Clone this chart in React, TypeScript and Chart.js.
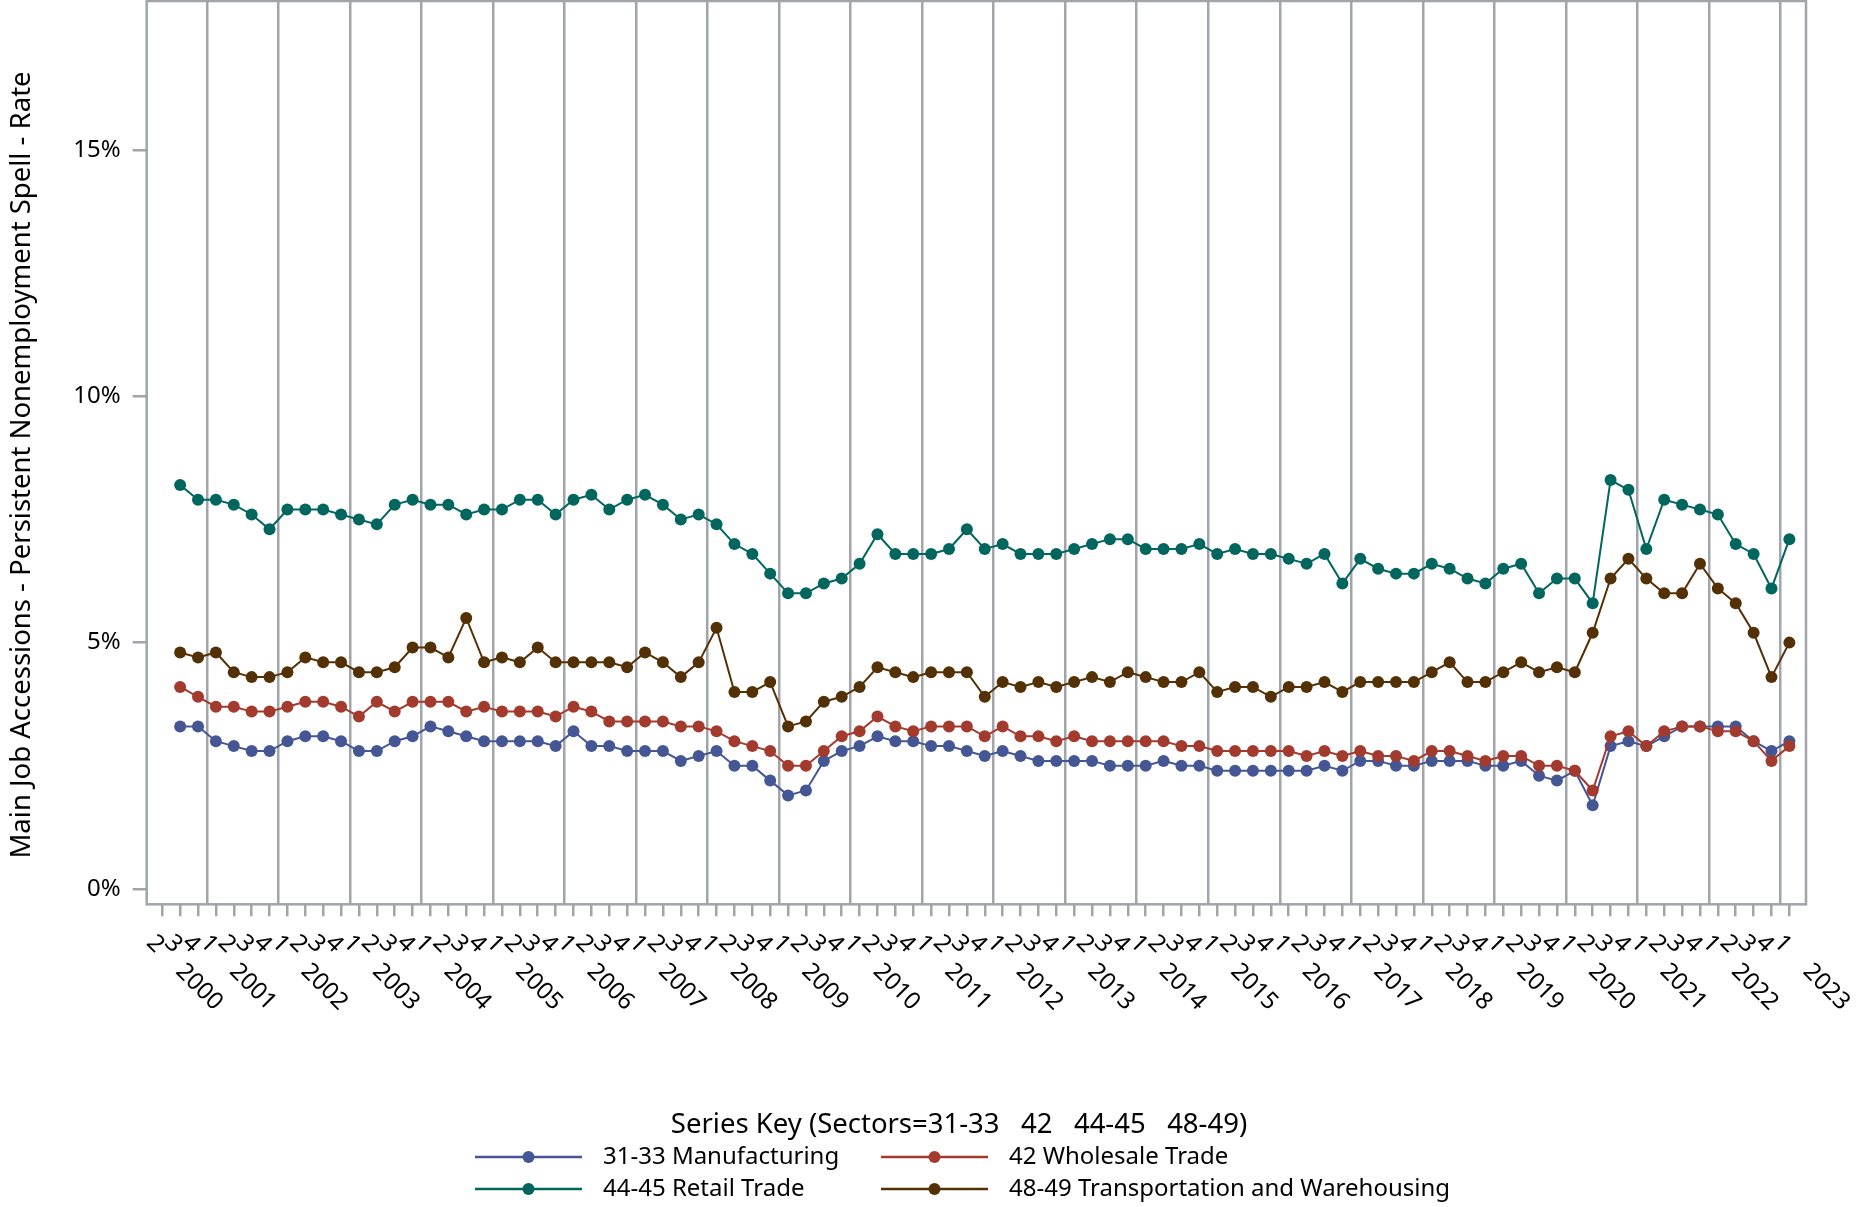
import React, { useEffect, useRef } from 'react';
import { Chart, registerables } from 'chart.js';

Chart.register(...registerables);

// ---------- data ----------
const YEARS = [2000, 2001, 2002, 2003, 2004, 2005, 2006, 2007, 2008, 2009, 2010, 2011,
  2012, 2013, 2014, 2015, 2016, 2017, 2018, 2019, 2020, 2021, 2022, 2023];
const FIRST_QUARTER = 2; // axis starts at 2000 Q2
const LAST_QUARTER = 1; // axis ends at 2023 Q1
const DATA_START_INDEX = 1; // values start at 2000 Q3

const SERIES_NAMES = [
  '31-33 Manufacturing',
  '42 Wholesale Trade',
  '44-45 Retail Trade',
  '48-49 Transportation and Warehousing',
];
const SERIES_COLORS = ['#445694', '#A23A2E', '#01665E', '#543005'];

const manufacturing = [
  3.3, 3.3, 3.0, 2.9, 2.8, 2.8, 3.0, 3.1, 3.1, 3.0, 2.8, 2.8, 3.0, 3.1, 3.3, 3.2, 3.1, 3.0, 3.0, 3.0, 3.0, 2.9, 3.2,
  2.9, 2.9, 2.8, 2.8, 2.8, 2.6, 2.7, 2.8, 2.5, 2.5, 2.2, 1.9, 2.0, 2.6, 2.8, 2.9, 3.1, 3.0, 3.0, 2.9, 2.9, 2.8, 2.7, 2.8,
  2.7, 2.6, 2.6, 2.6, 2.6, 2.5, 2.5, 2.5, 2.6, 2.5, 2.5, 2.4, 2.4, 2.4, 2.4, 2.4, 2.4, 2.5, 2.4, 2.6, 2.6, 2.5, 2.5,
  2.6, 2.6, 2.6, 2.5, 2.5, 2.6, 2.3, 2.2, 2.4, 1.7, 2.9, 3.0, 2.9, 3.1, 3.3, 3.3, 3.3, 3.3, 3.0, 2.8, 3.0,
];
const wholesale = [
  4.1, 3.9, 3.7, 3.7, 3.6, 3.6, 3.7, 3.8, 3.8, 3.7, 3.5, 3.8, 3.6, 3.8, 3.8, 3.8, 3.6, 3.7, 3.6, 3.6, 3.6, 3.5, 3.7,
  3.6, 3.4, 3.4, 3.4, 3.4, 3.3, 3.3, 3.2, 3.0, 2.9, 2.8, 2.5, 2.5, 2.8, 3.1, 3.2, 3.5, 3.3, 3.2, 3.3, 3.3, 3.3, 3.1, 3.3,
  3.1, 3.1, 3.0, 3.1, 3.0, 3.0, 3.0, 3.0, 3.0, 2.9, 2.9, 2.8, 2.8, 2.8, 2.8, 2.8, 2.7, 2.8, 2.7, 2.8, 2.7, 2.7, 2.6,
  2.8, 2.8, 2.7, 2.6, 2.7, 2.7, 2.5, 2.5, 2.4, 2.0, 3.1, 3.2, 2.9, 3.2, 3.3, 3.3, 3.2, 3.2, 3.0, 2.6, 2.9,
];
const retail = [
  8.2, 7.9, 7.9, 7.8, 7.6, 7.3, 7.7, 7.7, 7.7, 7.6, 7.5, 7.4, 7.8, 7.9, 7.8, 7.8, 7.6, 7.7, 7.7, 7.9, 7.9, 7.6, 7.9,
  8.0, 7.7, 7.9, 8.0, 7.8, 7.5, 7.6, 7.4, 7.0, 6.8, 6.4, 6.0, 6.0, 6.2, 6.3, 6.6, 7.2, 6.8, 6.8, 6.8, 6.9, 7.3, 6.9, 7.0,
  6.8, 6.8, 6.8, 6.9, 7.0, 7.1, 7.1, 6.9, 6.9, 6.9, 7.0, 6.8, 6.9, 6.8, 6.8, 6.7, 6.6, 6.8, 6.2, 6.7, 6.5, 6.4, 6.4,
  6.6, 6.5, 6.3, 6.2, 6.5, 6.6, 6.0, 6.3, 6.3, 5.8, 8.3, 8.1, 6.9, 7.9, 7.8, 7.7, 7.6, 7.0, 6.8, 6.1, 7.1,
];
const transportation = [
  4.8, 4.7, 4.8, 4.4, 4.3, 4.3, 4.4, 4.7, 4.6, 4.6, 4.4, 4.4, 4.5, 4.9, 4.9, 4.7, 5.5, 4.6, 4.7, 4.6, 4.9, 4.6, 4.6,
  4.6, 4.6, 4.5, 4.8, 4.6, 4.3, 4.6, 5.3, 4.0, 4.0, 4.2, 3.3, 3.4, 3.8, 3.9, 4.1, 4.5, 4.4, 4.3, 4.4, 4.4, 4.4, 3.9, 4.2,
  4.1, 4.2, 4.1, 4.2, 4.3, 4.2, 4.4, 4.3, 4.2, 4.2, 4.4, 4.0, 4.1, 4.1, 3.9, 4.1, 4.1, 4.2, 4.0, 4.2, 4.2, 4.2, 4.2,
  4.4, 4.6, 4.2, 4.2, 4.4, 4.6, 4.4, 4.5, 4.4, 5.2, 6.3, 6.7, 6.3, 6.0, 6.0, 6.6, 6.1, 5.8, 5.2, 4.3, 5.0,
];

const Y_TICKS = [0, 5, 10, 15];
const Y_TITLE = 'Main Job Accessions - Persistent Nonemployment Spell - Rate';
const LEGEND_TITLE = 'Series Key (Sectors=31-33   42   44-45   48-49)';

// ---------- derived category list ----------
type Cat = { year: number; q: number };
const categories: Cat[] = [];
YEARS.forEach((y, yi) => {
  for (let q = 1; q <= 4; q++) {
    if (yi === 0 && q < FIRST_QUARTER) continue;
    if (yi === YEARS.length - 1 && q > LAST_QUARTER) continue;
    categories.push({ year: y, q });
  }
});

const FONT = '"Noto Sans", "Open Sans", sans-serif';
const GRID = '#a1a5a9';
const W = 1859;
const H = 1207;

const overlayPlugin = {
  id: 'overlay',
  beforeDatasetsDraw(chart: any) {
    const { ctx, chartArea } = chart;
    ctx.save();
    ctx.strokeStyle = GRID;
    ctx.lineWidth = 2.5;
    ctx.strokeRect(chartArea.left, chartArea.top, chartArea.right - chartArea.left, chartArea.bottom - chartArea.top);
    ctx.restore();
  },
  afterDraw(chart: any) {
    const { ctx } = chart;
    const xs = chart.scales.x;
    ctx.save();
    ctx.fillStyle = '#000';
    ctx.font = `24px ${FONT}`;
    ctx.textAlign = 'center';
    ctx.textBaseline = 'middle';
    // quarter labels
    categories.forEach((c, i) => {
      const px = xs.getPixelForValue(i);
      ctx.save();
      ctx.translate(px - 7, 944);
      ctx.rotate(Math.PI / 4);
      ctx.fillText(String(c.q), 0, 0);
      ctx.restore();
    });
    // year labels
    YEARS.forEach((y) => {
      const first = categories.findIndex((c) => c.year === y);
      const px = xs.getPixelForValue(first + 2.06);
      ctx.save();
      ctx.translate(px, 987);
      ctx.rotate(Math.PI / 4);
      ctx.fillText(String(y), 0, 0);
      ctx.restore();
    });
    // y title
    ctx.font = `27.5px ${FONT}`;
    ctx.save();
    ctx.translate(22.5, 465);
    ctx.rotate(-Math.PI / 2);
    ctx.fillText(Y_TITLE, 0, 0);
    ctx.restore();
    // legend
    ctx.fillText(LEGEND_TITLE, 959, 1125);
    ctx.font = `24px ${FONT}`;
    const cols = [475, 881];
    const rows = [1157, 1189];
    SERIES_NAMES.forEach((name, i) => {
      const x0 = cols[i % 2];
      const y0 = rows[Math.floor(i / 2)];
      ctx.strokeStyle = SERIES_COLORS[i];
      ctx.lineWidth = 2.5;
      ctx.beginPath();
      ctx.moveTo(x0, y0);
      ctx.lineTo(x0 + 107, y0);
      ctx.stroke();
      ctx.fillStyle = SERIES_COLORS[i];
      ctx.beginPath();
      ctx.arc(x0 + 53.5, y0, 6, 0, Math.PI * 2);
      ctx.fill();
      ctx.fillStyle = '#000';
      ctx.textAlign = 'left';
      ctx.fillText(name, x0 + 128, y0);
      ctx.textAlign = 'center';
    });
    ctx.restore();
  },
};

const seriesValues = [manufacturing, wholesale, retail, transportation];

export default function App() {
  const ref = useRef<HTMLCanvasElement | null>(null);
  useEffect(() => {
    if (!ref.current) return;
    const chart = new Chart(ref.current, {
      type: 'line',
      data: {
        datasets: seriesValues.map((vals, si) => ({
          label: SERIES_NAMES[si],
          data: vals.map((v, i) => ({ x: DATA_START_INDEX + i, y: v })),
          borderColor: SERIES_COLORS[si],
          backgroundColor: SERIES_COLORS[si],
          borderWidth: 2,
          pointRadius: 6,
          pointBorderWidth: 0,
          pointHoverRadius: 6,
          tension: 0,
          order: seriesValues.length - si,
          clip: false as any,
        })),
      },
      options: {
        animation: false,
        responsive: false,
        devicePixelRatio: 1,
        events: [],
        layout: { padding: { left: 0, top: 1, right: 53, bottom: 0 }, autoPadding: false } as any,
        plugins: { legend: { display: false }, tooltip: { enabled: false }, title: { display: false } },
        scales: {
          x: {
            type: 'linear',
            min: -0.87,
            max: 91.93,
            afterBuildTicks: (scale: any) => {
              const t: any[] = [];
              categories.forEach((c, i) => {
                if (c.q === 1 && i > 0) t.push({ value: i - 0.5 });
                t.push({ value: i });
              });
              scale.ticks = t;
            },
            afterFit: (scale: any) => {
              scale.height = H - 904.3;
              scale.paddingLeft = 0;
              scale.paddingRight = 0;
            },
            ticks: { display: false },
            grid: {
              display: true,
              drawOnChartArea: true,
              drawTicks: true,
              tickLength: 12,
              lineWidth: 2.5,
              color: (ctx: any) => (ctx.tick && !Number.isInteger(ctx.tick.value) ? GRID : 'rgba(0,0,0,0)'),
              tickColor: (ctx: any) => (ctx.tick && Number.isInteger(ctx.tick.value) ? GRID : 'rgba(0,0,0,0)'),
            },
            border: { display: false },
          },
          y: {
            type: 'linear',
            min: -0.31,
            max: 18.02,
            afterBuildTicks: (scale: any) => {
              scale.ticks = Y_TICKS.map((v) => ({ value: v }));
            },
            afterFit: (scale: any) => {
              scale.width = 146.7;
              scale.paddingTop = 0;
              scale.paddingBottom = 0;
            },
            ticks: {
              callback: (v: any) => `${v}%`,
              font: { family: FONT, size: 24 },
              color: '#000',
              padding: 12,
              autoSkip: false,
            },
            grid: {
              display: true,
              drawOnChartArea: false,
              drawTicks: true,
              tickLength: 14,
              lineWidth: 2.5,
              color: GRID,
            },
            border: { display: false },
          },
        },
      } as any,
      plugins: [overlayPlugin],
    });
    return () => chart.destroy();
  }, []);
  return (
    <div style={{ position: 'fixed', left: 0, top: 0, width: W, height: H, background: '#fff' }}>
      <canvas ref={ref} width={W} height={H} style={{ display: 'block', width: W, height: H }} />
    </div>
  );
}
